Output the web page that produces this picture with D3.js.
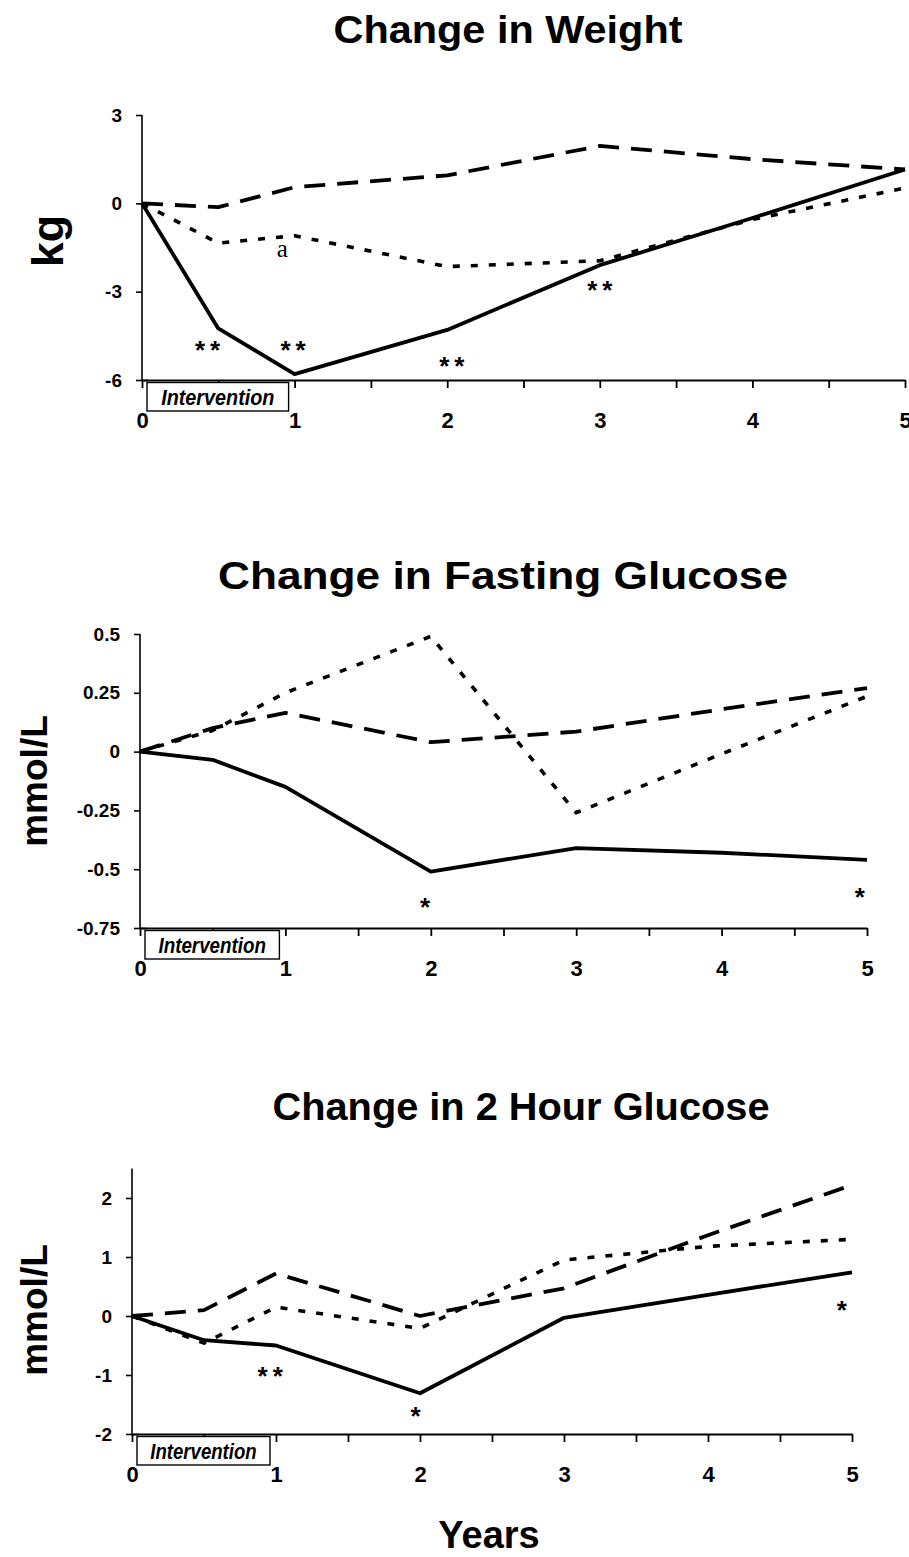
<!DOCTYPE html>
<html><head><meta charset="utf-8">
<script src="https://cdn.jsdelivr.net/npm/d3@7"></script>
<style>body{margin:0;background:#fff}</style>
</head><body>
<svg id="chart" width="909" height="1557"></svg>
<script>
// ---------- data ----------
const years = [0, 0.5, 1, 2, 3, 4, 5];
const xTicks = [0, 0.5, 1, 1.5, 2, 2.5, 3, 3.5, 4, 4.5, 5];
const xTickLabels = ["0", "", "1", "", "2", "", "3", "", "4", "", "5"];

const weightSolid  = [0, -4.25, -5.8, -4.3, -2.1, -0.5, 1.15];
const weightDashed = [0, -0.13, 0.55, 0.95, 1.95, 1.5, 1.15];
const weightDotted = [0, -1.35, -1.1, -2.15, -1.95, -0.55, 0.52];
const weightYTicks = [-6, -3, 0, 3];
const weightYTickLabels = ["-6", "-3", "0", "3"];

const fastingSolid  = [0, -0.035, -0.15, -0.51, -0.41, -0.43, -0.46];
const fastingDashed = [0, 0.1, 0.165, 0.04, 0.085, 0.18, 0.27];
const fastingDotted = [0, 0.09, 0.25, 0.49, -0.26, -0.01, 0.235];
const fastingYTicks = [-0.75, -0.5, -0.25, 0, 0.25, 0.5];
const fastingYTickLabels = ["-0.75", "-0.5", "-0.25", "0", "0.25", "0.5"];

const twoHourSolid  = [0, -0.41, -0.5, -1.31, -0.03, 0.36, 0.74];
const twoHourDashed = [0, 0.1, 0.72, 0.0, 0.47, 1.37, 2.22];
const twoHourDotted = [0, -0.46, 0.15, -0.21, 0.95, 1.18, 1.3];
const twoHourYTicks = [-2, -1, 0, 1, 2];
const twoHourYTickLabels = ["-2", "-1", "0", "1", "2"];

const titles = ["Change in Weight", "Change in Fasting Glucose", "Change in 2 Hour Glucose"];
const yLabels = ["kg", "mmol/L", "mmol/L"];
const xLabel = "Years";
const boxLabel = "Intervention";

// significance marks [year, value, text]
const weightMarks  = [[0.43, -4.86, "**"], [0.99, -4.86, "**"], [2.03, -5.4, "**"], [3.0, -2.8, "**"]];
const weightNote   = [[0.92, -1.6, "a"]];
const fastingMarks = [[1.96, -0.645, "*"], [4.95, -0.6, "*"]];
const twoHourMarks = [[0.96, -0.95, "**"], [1.97, -1.63, "*"], [4.93, 0.17, "*"]];

// ---------- drawing ----------
const svg = d3.select("#chart");
const SANS = "'Liberation Sans', Arial, sans-serif";

const panels = [
  {title: titles[0], titleX: 508, titleY: 43, titleW: 349,
   ylab: yLabels[0], ylabX: 63, ylabY: 241, ylabSize: 45,
   x0: 142, x1: 905, yTop: 115, yBot: 380, domain: [-6, 3],
   yTicks: weightYTicks, yTickLabels: weightYTickLabels,
   series: [weightSolid, weightDashed, weightDotted], marks: weightMarks, notes: weightNote},
  {title: titles[1], titleX: 503, titleY: 589, titleW: 570,
   ylab: yLabels[1], ylabX: 47, ylabY: 781, ylabSize: 37,
   x0: 140, x1: 867, yTop: 634, yBot: 928, domain: [-0.75, 0.5],
   yTicks: fastingYTicks, yTickLabels: fastingYTickLabels,
   series: [fastingSolid, fastingDashed, fastingDotted], marks: fastingMarks, notes: []},
  {title: titles[2], titleX: 521, titleY: 1120, titleW: 497,
   ylab: yLabels[2], ylabX: 47, ylabY: 1310, ylabSize: 37,
   x0: 132, x1: 852, yTop: 1168.5, yBot: 1434, domain: [-2, 2.5],
   yTicks: twoHourYTicks, yTickLabels: twoHourYTickLabels,
   series: [twoHourSolid, twoHourDashed, twoHourDotted], marks: twoHourMarks, notes: []}
];

const styles = [
  {dash: null, width: 3.8},
  {dash: "21,12", width: 3.8},
  {dash: "7,11", width: 3.6}
];

panels.forEach(p => {
  const x = d3.scaleLinear().domain([0, 5]).range([p.x0, p.x1]);
  const y = d3.scaleLinear().domain(p.domain).range([p.yBot, p.yTop]);
  const g = svg.append("g");

  // title
  g.append("text").attr("x", p.titleX).attr("y", p.titleY)
    .attr("text-anchor", "middle").attr("font-family", SANS)
    .attr("font-weight", "bold").attr("font-size", 38)
    .attr("textLength", p.titleW).attr("lengthAdjust", "spacingAndGlyphs")
    .text(p.title);

  // y label
  g.append("text").attr("transform", `translate(${p.ylabX},${p.ylabY}) rotate(-90)`)
    .attr("text-anchor", "middle").attr("font-family", SANS)
    .attr("font-weight", "bold").attr("font-size", p.ylabSize)
    .text(p.ylab);

  // y axis
  const yAxis = d3.axisLeft(y).tickValues(p.yTicks)
    .tickFormat((d, i) => p.yTickLabels[i]).tickSize(6).tickSizeOuter(0).tickPadding(14);
  const ya = g.append("g").attr("transform", `translate(${p.x0},0)`).call(yAxis);
  ya.select(".domain").attr("d", `M0,${p.yTop}V${p.yBot}`).attr("stroke-width", 1.6);
  ya.selectAll(".tick line").attr("stroke-width", 1.6);
  ya.selectAll("text").attr("font-family", SANS).attr("font-weight", "bold")
    .attr("font-size", 19).attr("fill", "#000");
  // bottom tick crosses the axis
  ya.selectAll(".tick").filter(d => d === p.domain[0]).select("line").attr("x2", 6).attr("x1", -6);

  // x axis
  const xAxis = d3.axisBottom(x).tickValues(xTicks)
    .tickFormat((d, i) => xTickLabels[i]).tickSize(8).tickSizeOuter(0).tickPadding(0);
  const xa = g.append("g").attr("transform", `translate(0,${p.yBot})`).call(xAxis);
  xa.select(".domain").attr("stroke-width", 2.2);
  xa.selectAll(".tick line").attr("stroke-width", 1.8);
  xa.selectAll("text").attr("font-family", SANS).attr("font-weight", "bold")
    .attr("font-size", 22).attr("fill", "#000").attr("y", 48).attr("dy", 0);

  // intervention box
  const bx0 = x(0) + 5, bx1 = x(1) - 6, by0 = p.yBot + 2.5, by1 = p.yBot + 31;
  g.append("rect").attr("x", bx0).attr("y", by0).attr("width", bx1 - bx0).attr("height", by1 - by0)
    .attr("fill", "#fff").attr("stroke", "#000").attr("stroke-width", 1.4);
  g.append("text").attr("x", (bx0 + bx1) / 2).attr("y", by1 - 6)
    .attr("text-anchor", "middle").attr("font-family", SANS)
    .attr("font-weight", "bold").attr("font-style", "italic").attr("font-size", 22)
    .attr("textLength", (bx1 - bx0) * 0.8).attr("lengthAdjust", "spacingAndGlyphs")
    .text(boxLabel);

  // lines
  const line = d3.line().x((d, i) => x(years[i])).y(d => y(d));
  p.series.forEach((s, k) => {
    g.append("path").datum(s).attr("d", line).attr("fill", "none")
      .attr("stroke", "#000").attr("stroke-width", styles[k].width)
      .attr("stroke-dasharray", styles[k].dash)
      .attr("stroke-linejoin", "round");
  });

  // significance marks
  p.marks.forEach(m => {
    const ls = m[2].length > 1 ? 5 : 0;
    g.append("text").attr("x", x(m[0]) + ls / 2).attr("y", y(m[1]) + 13)
      .attr("text-anchor", "middle").attr("font-family", SANS)
      .attr("font-weight", "bold").attr("font-size", 26).attr("letter-spacing", ls)
      .text(m[2]);
  });
  p.notes.forEach(m => {
    g.append("text").attr("x", x(m[0])).attr("y", y(m[1]) + 7)
      .attr("text-anchor", "middle").attr("font-family", "'Liberation Serif', 'Times New Roman', serif")
      .attr("font-size", 25).text(m[2]);
  });
});

// x axis title
svg.append("text").attr("x", 489).attr("y", 1548).attr("text-anchor", "middle")
  .attr("font-family", SANS).attr("font-weight", "bold").attr("font-size", 38)
  .text(xLabel);
</script>
</body></html>
